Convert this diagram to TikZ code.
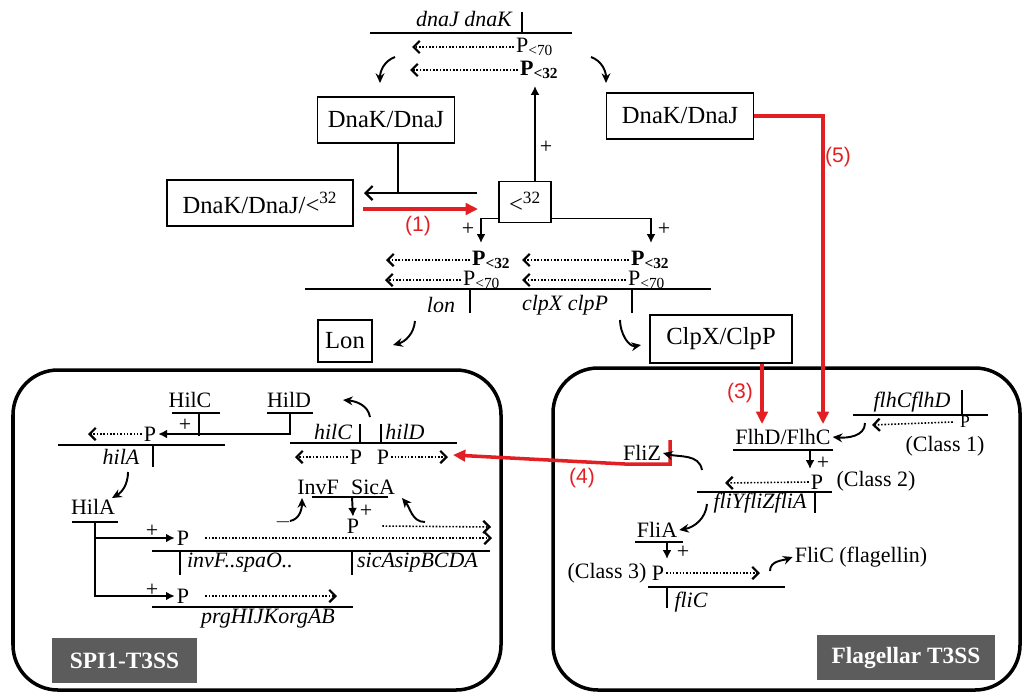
\documentclass[tikz,border=0pt]{standalone}
\usepackage{fontspec}
\setmainfont{Liberation Serif}
\newfontfamily\numfont{Liberation Sans}
\usetikzlibrary{arrows.meta, positioning, calc}
\definecolor{stepred}{RGB}{226,32,36}
\definecolor{taggray}{RGB}{92,92,92}
\tikzset{
  protbox/.style={
    draw, line width=1.1pt, inner sep=0pt,
    minimum width=#1, minimum height=0.92cm,
    font=\fontsize{14}{16}\selectfont
  },
  lbl/.style={inner sep=1pt, font=\fontsize{12.5}{14}\selectfont},
  boldlbl/.style={inner sep=1pt, font=\fontsize{12.5}{14}\selectfont\bfseries},
  genelbl/.style={inner sep=1pt, font=\fontsize{12.5}{14}\selectfont\itshape},
  numlbl/.style={inner sep=0pt, text=stepred, font=\numfont\fontsize{12}{14}\selectfont},
  geneline/.style={line width=1.1pt},
  txarrow/.style={densely dotted, line width=0.9pt,
    -{Straight Barb[length=3.5pt,width=7pt,line width=1.3pt]}},
  seqarrow/.style={line width=1.1pt,
    -{Straight Barb[length=4pt,width=8pt,line width=1.3pt]}},
  actarrow/.style={line width=1.1pt, -{Latex[length=5pt,width=5pt]}},
  bendarrow/.style={line width=1.1pt, -{Stealth[length=5.5pt,width=5pt]}},
  redarrow/.style={draw=stepred, line width=2pt, -{Triangle[length=7pt,width=6.5pt]}},
  cellbox/.style={line width=2pt, rounded corners=0.9cm},
  sstag/.style={
    fill=taggray, text=white, inner sep=0pt,
    minimum height=0.9cm, minimum width=#1,
    font=\fontsize{13.3}{15}\selectfont\bfseries
  },
}
\begin{document}
\begin{tikzpicture}[x=0.02cm,y=-0.02cm]
\useasboundingbox (0,0) rectangle (1030,697);
% dnaJ dnaK operon
\node[genelbl](dnajk)at(464,19){dnaJ dnaK};
\draw[geneline](370,33)--(572,33) (522,12)--(522,33);
\node[lbl,anchor=west](ptop70)at(514,47){P\textsubscript{<70}};
\node[boldlbl,anchor=west](ptop32)at(518,70){P\textsubscript{<32}};
\coordinate(ttop70)at(412,47);
\coordinate(ttop32)at(410,70);
\draw[txarrow](ptop70.west)--(ttop70);
\draw[txarrow](ptop32.west)--(ttop32);
\coordinate(cl1)at(395,57);\coordinate(cl2)at(380,83);
\coordinate(cr1)at(591,57);\coordinate(cr2)at(606,83);
\draw[bendarrow](cl1)to[out=200,in=90](cl2);
\draw[bendarrow](cr1)to[out=-20,in=90](cr2);
% proteins
\node[protbox=2.74cm](dnakL)at(386,120){DnaK/DnaJ};
\node[protbox=3.72cm](cplx)at(260,203){DnaK/DnaJ/<\textsuperscript{32}};
\node[protbox=1.04cm,minimum height=0.82cm](sig)at(525,202){<\textsuperscript{32}};
\node[protbox=2.94cm](dnakR)at(680,116){DnaK/DnaJ};
\node[protbox=1.08cm,minimum height=0.84cm](lon)at(345,341){Lon};
\node[protbox=2.84cm,minimum height=0.96cm](clp)at(721,339){ClpX/ClpP};
\coordinate(jn)at(398,193);\coordinate(seqR)at(477,193);\coordinate(seqL)at(364,193);
\draw[geneline](dnakL.south -| jn)--(jn);
\draw[seqarrow](seqR)--(seqL);
\coordinate(r1a)at(363,209);\coordinate(r1b)at(478,209);
\draw[redarrow](r1a)--(r1b);
\node[numlbl](n1)at(418,226){(1)};
\coordinate(upT)at(535,86);
\draw[actarrow](sig.north -| upT)--(upT);
\node[lbl](plusUp)at(546,147){+};
\coordinate(bL)at(481,243);\coordinate(bR)at(651,243);
\draw[actarrow]($(sig.south west)+(0,-5)$)-|(bL);
\draw[actarrow]($(sig.south east)+(0,-5)$)-|(bR);
\node[lbl](plusL)at(468,229){+};
\node[lbl](plusR)at(664,229){+};
% lon / clpXP operons
\node[boldlbl,anchor=west](pm32a)at(470,260){P\textsubscript{<32}};
\node[lbl,anchor=west](pm70a)at(461,280){P\textsubscript{<70}};
\node[boldlbl,anchor=west](pm32b)at(629,260){P\textsubscript{<32}};
\node[lbl,anchor=west](pm70b)at(626,280){P\textsubscript{<70}};
\coordinate(tm32a)at(386,260);\coordinate(tm70a)at(385,280);
\coordinate(tm32b)at(522,260);\coordinate(tm70b)at(522,280);
\draw[txarrow](pm32a.west)--(tm32a);
\draw[txarrow](pm70a.west)--(tm70a);
\draw[txarrow](pm32b.west)--(tm32b);
\draw[txarrow](pm70b.west)--(tm70b);
\draw[geneline](305,289)--(711,289) (470,289)--(470,313) (632,289)--(632,313);
\node[genelbl](lonG)at(441,305){lon};
\node[genelbl](clpG)at(565,305){clpX clpP};
\coordinate(cv1)at(415,321);\coordinate(cv2)at(393,345);
\coordinate(cv3)at(620,320);\coordinate(cv4)at(641,345);
\draw[bendarrow](cv1)to[out=-95,in=15](cv2);
\draw[bendarrow](cv3)to[out=-90,in=190](cv4);
% cells
\draw[cellbox](13,370) rectangle (501,690);
\draw[cellbox](553,368) rectangle (1020,690);
\node[sstag=2.9cm](tagSPI)at(124.5,660.5){SPI1-T3SS};
\node[sstag=3.56cm](tagFla)at(906,657.5){Flagellar T3SS};
% SPI1 regulation
\node[lbl](hilCp)at(190,400){HilC};
\node[lbl](hilDp)at(289,400){HilD};
\draw[geneline](172,413)--(220,413) (267,413)--(313,413) (199,413)--(199,436);
\node[lbl](plusC)at(185,425){+};
\node[lbl](pA)at(150,434){P};
\coordinate(hd)at(290,413);
\draw[actarrow](hd)|-(pA.east);
\coordinate(tA)at(88,434);
\draw[txarrow](pA.west)--(tA);
\draw[geneline](58,445)--(225,445) (153,445)--(153,467);
\node[genelbl](hilAg)at(121,457){hilA};
\draw[geneline](290,443)--(457,443) (360,424)--(360,443) (381,424)--(381,443);
\node[genelbl](hilCg)at(333,432){hilC};
\node[genelbl](hilDg)at(405,432){hilD};
\node[lbl](pC)at(356,457){P};
\node[lbl](pD)at(383,457){P};
\coordinate(tC)at(295,457);\coordinate(tD)at(448,457);
\draw[txarrow](pC.west)--(tC);
\draw[txarrow](pD.east)--(tD);
\coordinate(cv5)at(370,417);\coordinate(cv6)at(343,400);
\draw[bendarrow](cv5)to[out=100,in=-5](cv6);
\node[lbl](invF)at(318,487){InvF};
\node[lbl](sicA)at(373,487){SicA};
\draw[geneline](312,497)--(388,497);
\node[lbl](pS)at(353,526){P};
\draw[actarrow](352,497)--(pS.north);
\node[lbl](plusS)at(366,511){+};
\coordinate(tS)at(491,527);
\draw[txarrow]([xshift=12pt]pS.east)--(tS);
\node[lbl](minusI)at(283,522){$-$};
\coordinate(cv7)at(290,521);\coordinate(cv8)at(302,498);
\draw[bendarrow](cv7)to[out=10,in=-90](cv8);
\coordinate(cv9)at(425,522);\coordinate(cv10)at(402,498);
\draw[bendarrow](cv9)to[out=180,in=-50](cv10);
\node[lbl](hilAp)at(93,507){HilA};
\draw[geneline](72,522)--(118,522);
\coordinate(cv11)at(128,472);\coordinate(cv12)at(112,498);
\draw[bendarrow](cv11)to[out=-90,in=30](cv12);
\node[lbl](pI)at(183,538){P};
\node[lbl](pP)at(183,596){P};
\coordinate(hA)at(95,522);
\draw[actarrow](hA)|-(pI.west);
\draw[actarrow](hA)|-(pP.west);
\node[lbl](plusI)at(152,531){+};
\node[lbl](plusP)at(152,590){+};
\coordinate(tI)at(492,538);\coordinate(tP)at(337,596);
\draw[txarrow]([xshift=8pt]pI.east)--(tI);
\draw[txarrow]([xshift=8pt]pP.east)--(tP);
\draw[geneline](152,551)--(490,551) (180,551)--(180,575) (352,551)--(352,575);
\node[genelbl,anchor=west](invG)at(185,563){invF..spaO..};
\node[genelbl,anchor=west](sicG)at(355,563){sicAsipBCDA};
\draw[geneline](152,607)--(353,607);
\node[genelbl](prgG)at(268,619){prgHIJKorgAB};
% flagellar regulation
\node[lbl](flhDC)at(783,437){FlhD/FlhC};
\draw[geneline](733,450)--(833,450);
\coordinate(r3)at(762,424);\coordinate(r5)at(823,424);
\draw[redarrow](clp.south -| r3)--(r3);
\draw[redarrow](dnakR.east)-|(r5);
\node[numlbl](n3)at(740,393){(3)};
\node[numlbl](n5)at(838,157){(5)};
\node[genelbl](flhG)at(912,402){flhCflhD};
\draw[geneline](853,415)--(988,415) (962,390)--(962,415);
\node[lbl,font=\fontsize{10}{12}\selectfont](p1)at(965,422){P};
\coordinate(t1)at(872,425);
\draw[txarrow]([xshift=-3pt]p1.west)--(t1);
\node[lbl](cls1)at(945,446){(Class 1)};
\coordinate(cv13)at(865,423);
\draw[bendarrow](cv13)to[out=-90,in=-5](flhDC.east);
\node[lbl](p2)at(817,482){P};
\draw[actarrow](810,450)--(810,469);
\node[lbl](plus2)at(823,463){+};
\node[lbl](cls2)at(876,481){(Class 2)};
\coordinate(t2)at(725,483);
\draw[txarrow](p2.west)--(t2);
\draw[geneline](697,492)--(832,492) (815,492)--(815,513);
\node[genelbl](fliG)at(760,503){fliYfliZfliA};
\node[lbl](fliZ)at(642,453){FliZ};
\coordinate(z1)at(670,440);\coordinate(z2)at(453,455);
\draw[redarrow](z1)--(670,464)--(625,464)--(z2);
\node[numlbl](n4)at(582,478){(4)};
\coordinate(cv14)at(702,470);
\draw[bendarrow](cv14)to[out=100,in=-15](fliZ.east);
\node[lbl](fliAp)at(657,530){FliA};
\draw[geneline](635,542)--(683,542);
\coordinate(cv15)at(707,504);
\draw[bendarrow](cv15)to[out=-95,in=10](fliAp.east);
\node[lbl](p3)at(658,573){P};
\draw[actarrow](667,542)--(667,559);
\node[lbl](plus3)at(683,552){+};
\node[lbl](cls3)at(607,573){(Class 3)};
\coordinate(t3)at(760,573);
\draw[txarrow](p3.east)--(t3);
\draw[geneline](648,587)--(785,587) (667,587)--(667,608);
\node[genelbl](fliCg)at(691,602){fliC};
\node[lbl](fliCp)at(861,557){FliC (flagellin)};
\coordinate(cv16)at(770,571);
\draw[bendarrow](cv16)to[out=90,in=200](fliCp.west);
\end{tikzpicture}
\end{document}
